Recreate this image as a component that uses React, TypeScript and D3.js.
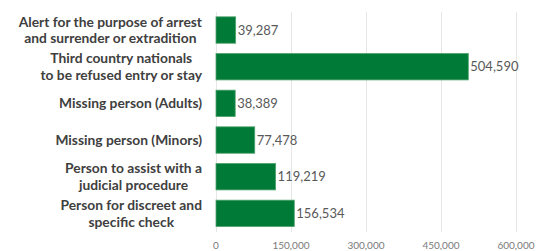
import React, { useEffect, useRef } from "react";
import * as d3 from "d3";

// SIS alerts by category
const categories = [
  ["Alert for the purpose of arrest", "and surrender or extradition"],
  ["Third country nationals", "to be refused entry or stay"],
  ["Missing person (Adults)"],
  ["Missing person (Minors)"],
  ["Person to assist with a", "judicial procedure"],
  ["Person for discreet and", "specific check"],
];
const values = [39287, 504590, 38389, 77478, 119219, 156534];
const tickValues = [0, 150000, 300000, 450000, 600000];

const W = 538;
const H = 251;

export default function App() {
  const ref = useRef<SVGSVGElement>(null);

  useEffect(() => {
    const svg = d3.select(ref.current).html("");
    const font = "Lato, 'Open Sans', sans-serif";
    const keys = categories.map((c) => c.join(" "));

    const x = d3.scaleLinear().domain([0, 600000]).range([216, 516]);
    const y = d3.scaleBand().domain(keys).range([11.7, 231.7])
      .paddingInner(0.28).paddingOuter(0.14);

    // grid
    svg.append("g")
      .selectAll("line")
      .data(tickValues)
      .join("line")
      .attr("x1", (d) => Math.round(x(d)) + 0.5)
      .attr("x2", (d) => Math.round(x(d)) + 0.5)
      .attr("y1", 12)
      .attr("y2", 232)
      .attr("stroke", "#e6e6e6")
      .attr("stroke-width", 1);

    // tick labels
    const fmt = d3.format(",");
    svg.append("g")
      .selectAll("text")
      .data(tickValues)
      .join("text")
      .attr("x", (d) => x(d))
      .attr("y", 249)
      .attr("text-anchor", "middle")
      .style("font-family", font)
      .style("font-size", "10px")
      .attr("fill", "#7a7a7a")
      .text((d) => fmt(d));

    // bars
    svg.append("g")
      .selectAll("rect")
      .data(values)
      .join("rect")
      .attr("x", x(0))
      .attr("y", (d, i) => y(keys[i])!)
      .attr("width", (d) => x(d) - x(0))
      .attr("height", y.bandwidth())
      .attr("fill", "#007a37")
      .attr("stroke", "#4fa36c")
      .attr("stroke-width", 0.8);

    // value labels
    svg.append("g")
      .selectAll("text")
      .data(values)
      .join("text")
      .attr("x", (d) => x(d) + 2)
      .attr("y", (d, i) => y(keys[i])! + y.bandwidth() / 2 + 4.5)
      .style("font-family", font)
      .style("font-size", "13px")
      .attr("fill", "#595959")
      .text((d) => fmt(d));

    // category labels: centred lines, block right-aligned
    const lab = svg.append("g");
    categories.forEach((lines, i) => {
      const cy = y(keys[i])! + y.bandwidth() / 2;
      const lh = 16.5;
      const g = lab.append("g");
      const texts = lines.map((t, j) =>
        g.append("text")
          .attr("y", cy + (j - (lines.length - 1) / 2) * lh + 5)
          .attr("text-anchor", "middle")
          .style("font-family", font)
          .style("font-size", "13.8px")
          .style("font-weight", "700")
          .attr("fill", "#404040")
          .text(t)
      );
      const maxw = d3.max(texts, (t) => (t.node() as SVGTextElement).getComputedTextLength()) || 0;
      texts.forEach((t) => t.attr("x", 202 - maxw / 2));
    });
  }, []);

  return (
    <svg
      ref={ref}
      width={W}
      height={H}
      style={{ position: "absolute", left: 0, top: 0, background: "#fff" }}
    />
  );
}
